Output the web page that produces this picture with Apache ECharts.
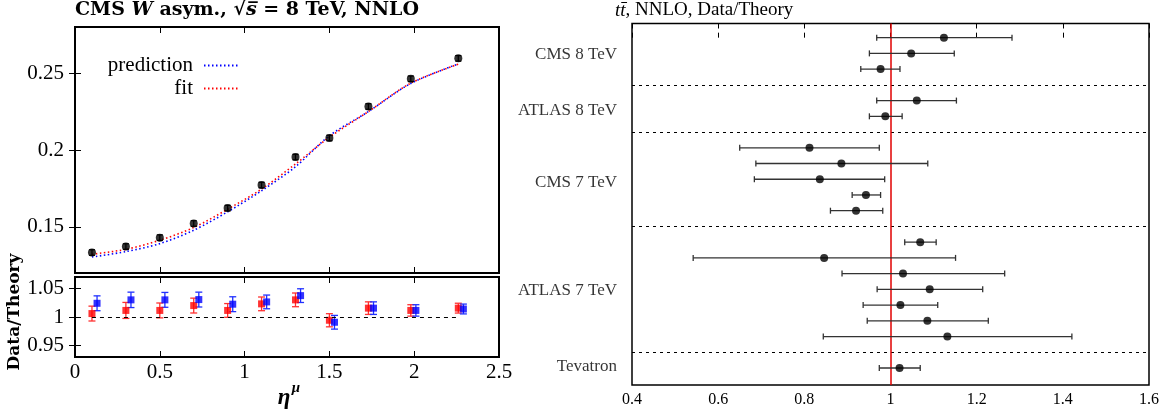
<!DOCTYPE html>
<html>
<head>
<meta charset="utf-8">
<script src="https://cdn.jsdelivr.net/npm/echarts@6/dist/echarts.min.js"></script>
<style>
html,body{margin:0;padding:0;background:#fff;}
#c{width:1169px;height:412px;}
</style>
</head>
<body>
<div id="c"></div>
<script>
// ---------- Left: CMS W asymmetry ----------
const etaBins = [0.1, 0.3, 0.5, 0.7, 0.9, 1.1, 1.3, 1.5, 1.73, 1.98, 2.26];
const asymData = [0.1333, 0.1372, 0.1430, 0.1522, 0.1622, 0.1772, 0.1954, 0.2078, 0.2283, 0.2463, 0.2596];
const asymErr = [0.0018, 0.0018, 0.0018, 0.0018, 0.0018, 0.0018, 0.0018, 0.0018, 0.0018, 0.0018, 0.0018];
const predCurve = [0.1304, 0.1339, 0.1391, 0.1478, 0.1598, 0.1735, 0.1891, 0.2093, 0.2250, 0.2433, 0.2560];
const fitCurve = [0.1322, 0.1354, 0.1413, 0.1496, 0.1615, 0.1746, 0.1909, 0.2083, 0.2250, 0.2435, 0.2558];

const ratioFitEta = [0.1, 0.3, 0.5, 0.7, 0.9, 1.1, 1.3, 1.5, 1.73, 1.98, 2.26];
const ratioFit = [1.006, 1.0115, 1.0115, 1.020, 1.0115, 1.023, 1.030, 0.9943, 1.0155, 1.0115, 1.0155];
const ratioFitErr = [0.013, 0.014, 0.013, 0.013, 0.012, 0.012, 0.012, 0.0115, 0.011, 0.010, 0.0086];
const ratioPredEta = [0.13, 0.33, 0.53, 0.73, 0.93, 1.13, 1.33, 1.53, 1.76, 2.01, 2.29];
const ratioPred = [1.024, 1.030, 1.030, 1.0305, 1.0224, 1.0264, 1.0374, 0.9908, 1.0155, 1.0115, 1.014];
const ratioPredErr = [0.013, 0.0135, 0.013, 0.013, 0.013, 0.012, 0.012, 0.012, 0.011, 0.010, 0.0086];

const leftXTicks = [0, 0.5, 1, 1.5, 2, 2.5];
const upperYTicks = [0.15, 0.2, 0.25];
const lowerYTicks = [0.95, 1, 1.05];

// ---------- Right: ttbar Data/Theory ----------
const ttRows = [0, 1, 2, 4, 5, 7, 8, 9, 10, 11, 13, 14, 15, 16, 17, 18, 19, 21];
const ttVal = [1.124, 1.048, 0.977, 1.061, 0.988, 0.812, 0.886, 0.836, 0.943, 0.920, 1.069, 0.846, 1.029, 1.091, 1.023, 1.0856, 1.132, 1.021];
const ttLo = [0.968, 0.951, 0.931, 0.968, 0.951, 0.650, 0.6875, 0.684, 0.911, 0.8606, 1.033, 0.542, 0.8875, 0.969, 0.9365, 0.946, 0.844, 0.974];
const ttHi = [1.282, 1.148, 1.022, 1.153, 1.027, 0.974, 1.0865, 0.9865, 0.977, 0.982, 1.106, 1.151, 1.265, 1.214, 1.1096, 1.227, 1.421, 1.069];
const groupNames = ['CMS 8 TeV', 'ATLAS 8 TeV', 'CMS 7 TeV', 'ATLAS 7 TeV', 'Tevatron'];
const groupRows = [1.1, 4.66, 9.2, 16.1, 20.9];
const separatorRows = [3, 6, 12, 20];

const FONT = 'Liberation Serif';
const BFONT = 'DejaVu Serif';

function vErr(color, cap, lw) {
  return function (params, api) {
    const x = api.value(0), lo = api.value(2), hi = api.value(3);
    const a = api.coord([x, lo]), b = api.coord([x, hi]);
    const st = { stroke: color, lineWidth: lw };
    return { type: 'group', children: [
      { type: 'line', shape: { x1: a[0], y1: a[1], x2: b[0], y2: b[1] }, style: st },
      { type: 'line', shape: { x1: a[0] - cap, y1: a[1], x2: a[0] + cap, y2: a[1] }, style: st },
      { type: 'line', shape: { x1: b[0] - cap, y1: b[1], x2: b[0] + cap, y2: b[1] }, style: st }
    ]};
  };
}
function hErr(color, cap, lw) {
  return function (params, api) {
    const lo = api.value(0), y = api.value(1), hi = api.value(2);
    const a = api.coord([lo, y]), b = api.coord([hi, y]);
    const st = { stroke: color, lineWidth: lw };
    return { type: 'group', children: [
      { type: 'line', shape: { x1: a[0], y1: a[1], x2: b[0], y2: b[1] }, style: st },
      { type: 'line', shape: { x1: a[0], y1: a[1] - cap, x2: a[0], y2: a[1] + cap }, style: st },
      { type: 'line', shape: { x1: b[0], y1: b[1] - cap, x2: b[0], y2: b[1] + cap }, style: st }
    ]};
  };
}
const zip = (xs, ys) => xs.map((x, i) => [x, ys[i]]);
const errData = (xs, ys, es) => xs.map((x, i) => [x, ys[i], ys[i] - es[i], ys[i] + es[i]]);

const tickStyle = { inside: true, length: 6, lineStyle: { color: '#000', width: 1 } };
const tickStyleR = { inside: true, length: 5, lineStyle: { color: '#000', width: 1 } };

function valAxis(extra) {
  return Object.assign({
    type: 'value', axisLine: { show: false }, splitLine: { show: false },
    axisLabel: { show: false }, axisTick: { show: false }
  }, extra);
}

const chart = echarts.init(document.getElementById('c'), null, { renderer: 'canvas' });
const option = {
  animation: false,
  backgroundColor: '#fff',
  grid: [
    { left: 75, top: 27, width: 424, height: 246, show: true, borderColor: '#000', borderWidth: 2, backgroundColor: 'transparent' },
    { left: 75, top: 277, width: 424, height: 80, show: true, borderColor: '#000', borderWidth: 2, backgroundColor: 'transparent' },
    { left: 632, top: 23.5, width: 517, height: 361.5, show: true, borderColor: '#000', borderWidth: 1.5, backgroundColor: 'transparent' }
  ],
  xAxis: [
    valAxis({ gridIndex: 0, min: 0, max: 2.5, interval: 0.5, position: 'bottom', axisTick: tickStyle }),
    valAxis({ gridIndex: 0, min: 0, max: 2.5, interval: 0.5, position: 'top', axisTick: tickStyle }),
    valAxis({ gridIndex: 1, min: 0, max: 2.5, interval: 0.5, position: 'bottom', axisTick: tickStyle,
      axisLabel: { show: true, customValues: leftXTicks, margin: 5, color: '#000', fontFamily: FONT, fontSize: 21 } }),
    valAxis({ gridIndex: 1, min: 0, max: 2.5, interval: 0.5, position: 'top', axisTick: tickStyle }),
    valAxis({ gridIndex: 2, min: 0.4, max: 1.6, interval: 0.2, position: 'bottom', axisTick: tickStyleR,
      axisLabel: { show: true, margin: 7, color: '#000', fontFamily: FONT, fontSize: 16,
        formatter: v => String(Math.round(v * 10) / 10) } }),
    valAxis({ gridIndex: 2, min: 0.4, max: 1.6, interval: 0.2, position: 'top', axisTick: tickStyleR })
  ],
  yAxis: [
    valAxis({ gridIndex: 0, min: 0.12, max: 0.28, position: 'left',
      axisTick: Object.assign({ customValues: upperYTicks }, tickStyle),
      axisLabel: { show: true, customValues: upperYTicks, margin: 11, color: '#000', fontFamily: FONT, fontSize: 21 } }),
    valAxis({ gridIndex: 0, min: 0.12, max: 0.28, position: 'right',
      axisTick: Object.assign({ customValues: upperYTicks }, tickStyle) }),
    valAxis({ gridIndex: 1, min: 0.93, max: 1.07, position: 'left',
      axisTick: Object.assign({ customValues: lowerYTicks }, tickStyle),
      axisLabel: { show: true, customValues: lowerYTicks, margin: 11, color: '#000', fontFamily: FONT, fontSize: 21 } }),
    valAxis({ gridIndex: 1, min: 0.93, max: 1.07, position: 'right',
      axisTick: Object.assign({ customValues: lowerYTicks }, tickStyle) }),
    valAxis({ gridIndex: 2, min: -0.9, max: 22.08, inverse: true, position: 'left' })
  ],
  legend: {
    orient: 'vertical', left: 95, top: 50, align: 'right', itemGap: 2,
    itemWidth: 36, itemHeight: 14,
    data: ['prediction', 'fit'],
    itemStyle: { color: 'transparent', borderColor: 'transparent', borderWidth: 0, opacity: 0 },
    formatter: n => '{a|' + n + '}',
    textStyle: { color: '#000', fontFamily: FONT, fontSize: 21,
      rich: { a: { width: 93, align: 'right', padding: [0, 6, 0, 0], fontFamily: FONT, fontSize: 21, lineHeight: 22, color: '#000' } } }
  },
  graphic: [
    { type: 'text', left: 75, top: 1, style: {
      rich: {
        b: { fontFamily: BFONT, fontWeight: 'bold', fontSize: 19, fill: '#000' },
        bi: { fontFamily: BFONT, fontWeight: 'bold', fontStyle: 'italic', fontSize: 19, fill: '#000' }
      },
      text: '{b|CMS }{bi|W}{b| asym., \u221A}{bi|s\u0305}{b| = 8 TeV, NNLO}' } },
    { type: 'text', left: 615, top: 1, style: {
      rich: {
        i: { fontFamily: FONT, fontStyle: 'italic', fontSize: 19, fill: '#000' },
        n: { fontFamily: FONT, fontSize: 19, fill: '#000' }
      },
      text: '{i|tt\u0304}{n|, NNLO, Data/Theory}' } },
    { type: 'text', x: 15, y: 312, rotation: Math.PI / 2, style: {
      text: 'Data/Theory', fontFamily: BFONT, fontWeight: 'bold', fontSize: 17, fill: '#000',
      align: 'center', verticalAlign: 'middle' } },
    { type: 'text', x: 284, y: 398, style: {
      text: '\u03B7', fontFamily: FONT, fontWeight: 'bold', fontStyle: 'italic', fontSize: 23, fill: '#000',
      align: 'center', verticalAlign: 'middle' } },
    { type: 'text', x: 296, y: 388, style: {
      text: '\u03BC', fontFamily: FONT, fontWeight: 'bold', fontStyle: 'italic', fontSize: 15, fill: '#000',
      align: 'center', verticalAlign: 'middle' } }
  ],
  series: [
    { type: 'custom', xAxisIndex: 0, yAxisIndex: 0, renderItem: vErr('#000', 3, 1.2),
      data: errData(etaBins, asymData, asymErr), encode: { x: 0, y: [1, 2, 3] }, z: 3 },
    { type: 'scatter', xAxisIndex: 0, yAxisIndex: 0, symbol: 'circle', symbolSize: 8,
      itemStyle: { color: '#000' }, data: zip(etaBins, asymData), z: 4 },
    { name: 'prediction', type: 'line', xAxisIndex: 0, yAxisIndex: 0, symbol: 'none', smooth: 0.3,
      lineStyle: { color: '#0000ff', width: 1.6, type: [1.5, 2.5] }, itemStyle: { color: '#0000ff' },
      data: zip(etaBins, predCurve), z: 2 },
    { name: 'fit', type: 'line', xAxisIndex: 0, yAxisIndex: 0, symbol: 'none', smooth: 0.3,
      lineStyle: { color: '#ff0000', width: 1.6, type: [1.5, 2.5] }, itemStyle: { color: '#ff0000' },
      data: zip(etaBins, fitCurve), z: 2 },

    { type: 'custom', xAxisIndex: 2, yAxisIndex: 2, renderItem: vErr('#ff3030', 3.5, 1.3),
      data: errData(ratioFitEta, ratioFit, ratioFitErr), encode: { x: 0, y: [1, 2, 3] }, z: 3 },
    { type: 'scatter', xAxisIndex: 2, yAxisIndex: 2, symbol: 'rect', symbolSize: 7,
      itemStyle: { color: '#ff0000' }, data: zip(ratioFitEta, ratioFit), z: 4,
      markLine: { silent: true, symbol: 'none', label: { show: false },
        lineStyle: { color: '#000', width: 1, type: [4, 4] },
        data: [[{ coord: [ratioFitEta[0], 1] }, { coord: [ratioFitEta[ratioFitEta.length - 1], 1] }]] } },
    { type: 'custom', xAxisIndex: 2, yAxisIndex: 2, renderItem: vErr('#2030ff', 3.5, 1.3),
      data: errData(ratioPredEta, ratioPred, ratioPredErr), encode: { x: 0, y: [1, 2, 3] }, z: 3 },
    { type: 'scatter', xAxisIndex: 2, yAxisIndex: 2, symbol: 'rect', symbolSize: 7,
      itemStyle: { color: '#0000ff' }, data: zip(ratioPredEta, ratioPred), z: 4 },

    { type: 'custom', xAxisIndex: 4, yAxisIndex: 4, renderItem: hErr('#333', 3, 1.3),
      data: ttRows.map((k, i) => [ttLo[i], k, ttHi[i]]), encode: { x: [0, 2], y: 1 }, z: 3 },
    { type: 'scatter', xAxisIndex: 4, yAxisIndex: 4, symbol: 'circle', symbolSize: 8,
      itemStyle: { color: '#000' }, data: ttRows.map((k, i) => [ttVal[i], k]), z: 5,
      markLine: { silent: true, symbol: 'none', label: { show: false }, z: 2,
        data: separatorRows.map(r => ({ yAxis: r, lineStyle: { color: '#000', width: 1, type: [3, 4] } }))
          .concat([{ xAxis: 1, lineStyle: { color: '#e00000', width: 1.5, type: 'solid' } }]) } },
    { type: 'scatter', xAxisIndex: 4, yAxisIndex: 4, symbolSize: 0, silent: true,
      data: groupRows.map((r, i) => ({ value: [0.4, r], name: groupNames[i] })),
      label: { show: true, position: 'left', distance: 15, formatter: p => p.name,
        color: '#000', fontFamily: FONT, fontSize: 17 } }
  ]
};
chart.setOption(option);
</script>
</body>
</html>
